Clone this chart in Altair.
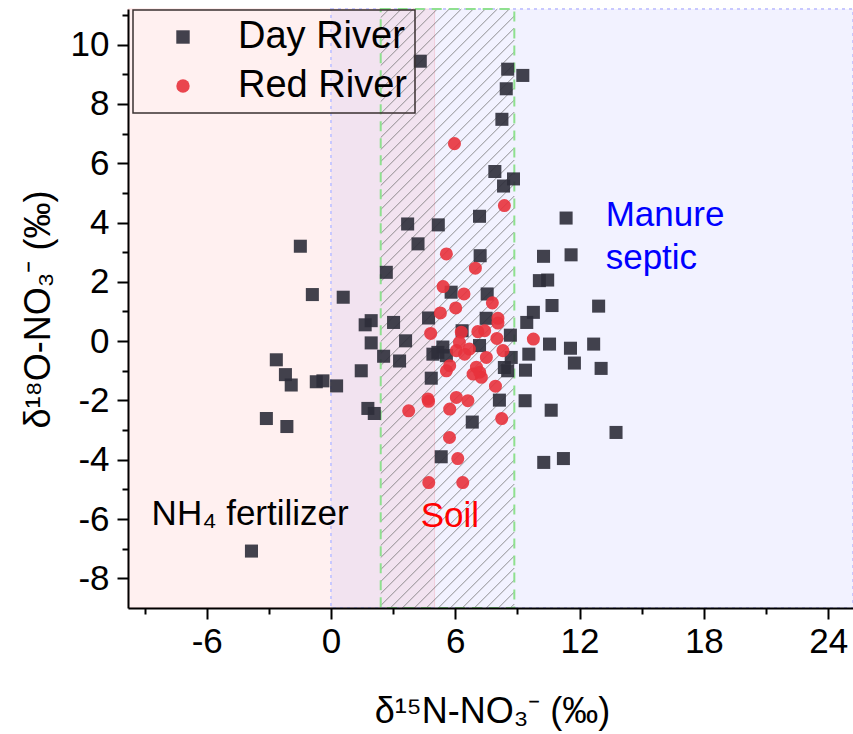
import altair as alt
import numpy as np
import pandas as pd

# ---------------- data ----------------
day_x = [-1.48, -0.9, 0.59, 3.7, 4.2, 2.67, 1.65, 1.94, 3.02, 1.94, 3.6, 2.54, 3.31,
         -2.64, -2.2, -1.92, -0.71, -0.39, 0.27, 1.46, 1.78, 2.09, -3.12, -2.13, -3.84,
         5.32, 6.82, 4.31, 8.53, 9.26, 8.46, 8.25, 7.91, 8.81, 8.33, 7.17, 11.35, 5.18,
         7.2, 10.26, 11.59, 10.06, 10.46, 5.8, 7.54, 10.67, 12.92, 9.77, 9.45, 4.71, 7.49,
         6.33, 8.66, 7.17, 10.55, 11.56, 12.68, 4.92, 5.4, 5.16, 5.57, 9.55, 8.7, 8.37,
         8.53, 11.75, 13.04, 9.39, 4.84, 8.13, 9.37, 10.63, 13.76, 10.27, 11.22]
day_y = [3.2, 1.57, 1.48, 3.95, 3.28, 2.32, 0.55, 0.69, 0.63, -0.06, 0.01, -0.51, -0.67,
         -0.63, -1.13, -1.48, -1.37, -1.34, -1.51, -1.0, -2.27, -2.44, -2.61, -2.88, -7.08,
         -3.9, -2.73, 9.44, 9.17, 8.96, 8.51, 7.48, 5.72, 5.47, 5.23, 4.21, 4.15, 3.92,
         2.88, 2.86, 2.91, 2.04, 2.06, 1.65, 1.59, 1.2, 1.18, 0.97, 0.63, 0.78, 0.77,
         0.35, 0.2, -0.15, -0.1, -0.24, -0.1, -0.44, -0.2, -0.38, -0.49, -0.44, -0.55, -0.89,
         -1.0, -0.74, -0.92, -0.98, -1.25, -1.99, -2.01, -2.33, -3.08, -4.09, -3.96]

red_x = [5.96, 8.37, 9.77, 5.72, 6.12, 4.72, 6.36, 8.24, 5.57, 6.97, 5.41, 6.42, 7.79,
         6.02, 5.28, 8.06, 4.81, 6.29, 7.09, 7.42, 8.06, 8.01, 8.3, 6.2, 6.68, 6.05, 6.45,
         7.5, 5.73, 5.57, 7.02, 7.18, 7.26, 6.86, 7.94, 4.68, 6.05, 6.61, 3.75, 5.73, 4.71]
red_y = [6.66, 4.57, 0.07, -3.25, -3.96, -4.77, -4.77, -2.61, 2.94, 2.46, 1.84, 1.59, 1.29,
         1.12, 0.95, 0.77, 0.26, 0.3, 0.32, 0.35, 0.61, 0.09, -0.32, -0.04, -0.27, -0.32, -0.44,
         -0.55, -0.83, -1.0, -0.88, -1.05, -1.22, -1.11, -1.52, -1.95, -1.9, -2.01, -2.35, -2.29, -2.03]

series_names = ["Day River", "Red River"]
series_colors = ["#2e2e3a", "#e8323c"]
series_shapes = ["square", "circle"]

x_ticks = [-9, -6, -3, 0, 3, 6, 9, 12, 15, 18, 21, 24]
y_ticks = list(range(-8, 12))

X_MIN, X_MAX = -9.8, 25.2
Y_MIN, Y_MAX = -9.0, 11.2

fert_range = [X_MIN, 5.0]      # NH4 fertilizer band
manure_range = [0.0, X_MAX]    # manure / septic band
soil_range = [2.4, 8.85]       # soil band (hatched)

labels_text = ["NH₄ fertilizer", "Soil", "Manure", "septic"]
labels_x = [-8.66, 4.33, 13.26, 13.26]
labels_y = [-6.2, -6.27, 3.89, 2.43]
labels_color = ["#000000", "#ff0000", "#0000ff", "#0000ff"]

# ---------------- layout ----------------
W, H = 725, 599
FONT = "Liberation Sans"

pts = pd.DataFrame({
    "x": day_x + red_x,
    "y": day_y + red_y,
    "series": [series_names[0]] * len(day_x) + [series_names[1]] * len(red_x),
})

xs = alt.Scale(domain=[X_MIN, X_MAX], nice=False, zero=False)
ys = alt.Scale(domain=[Y_MIN, Y_MAX], nice=False, zero=False)

x_axis = alt.Axis(
    values=x_ticks,
    labelExpr="datum.value % 6 == 0 ? '' + datum.value : ''",
    tickSize={"condition": {"test": "datum.value % 6 != 0", "value": 6}, "value": 11},
    title="δ¹⁵N-NO₃⁻ (‰)",
    titleX=364, titleY=114, titleBaseline="alphabetic", titleAlign="center",
    labelPadding=5, grid=False, zindex=2,
)
y_axis = alt.Axis(
    values=y_ticks,
    labelExpr="datum.value % 2 == 0 ? '' + datum.value : ''",
    tickSize={"condition": {"test": "datum.value % 2 != 0", "value": 6}, "value": 11},
    title="δ¹⁸O-NO₃⁻ (‰)",
    titleX=-90, titleY=300, titleAngle=-90, titleBaseline="middle", titleAlign="center",
    labelPadding=8, grid=False, zindex=2,
)

X = lambda f: alt.X(f, type="quantitative", scale=xs, axis=x_axis)
Y = lambda f: alt.Y(f, type="quantitative", scale=ys, axis=y_axis)

bands = pd.DataFrame({
    "x": [fert_range[0], manure_range[0]],
    "x2": [fert_range[1], manure_range[1]],
    "y": [Y_MIN, Y_MIN],
    "y2": [Y_MAX, Y_MAX],
})
pink = alt.Chart(bands.iloc[[0]]).mark_rect(
    fill="#ff0000", fillOpacity=0.06, stroke="#ffb0b0", strokeOpacity=0.4, strokeWidth=1
).encode(x=X("x"), x2="x2", y=Y("y"), y2="y2")
lav = alt.Chart(bands.iloc[[1]]).mark_rect(
    fill="#0000ff", fillOpacity=0.05, stroke="#c8c8ff", strokeWidth=2, strokeDash=[3, 4]
).encode(x=X("x"), x2="x2", y=Y("y"), y2="y2")

# hatch pattern for the soil band, built from the band's bounds
kx = W / (X_MAX - X_MIN)
ky = H / (Y_MAX - Y_MIN)
bw = (soil_range[1] - soil_range[0]) * kx
bh = (Y_MAX - Y_MIN) * ky
rows = []
for c in np.arange(-bw + 4, bh, 12.0):
    u0 = max(0.0, -c)
    u1 = min(bw, bh - c)
    if u1 > u0:
        rows.append({
            "x": soil_range[0] + u0 / kx, "y": Y_MIN + (u0 + c) / ky,
            "x2": soil_range[0] + u1 / kx, "y2": Y_MIN + (u1 + c) / ky,
        })
hatch_df = pd.DataFrame(rows)
hatch = alt.Chart(hatch_df).mark_rule(color="#6e6e6e", strokeWidth=1, opacity=0.75).encode(
    x=X("x"), y=Y("y"), x2="x2", y2="y2"
)

soil_df = pd.DataFrame({"x": [soil_range[0]], "x2": [soil_range[1]], "y": [Y_MIN], "y2": [Y_MAX]})
soil = alt.Chart(soil_df).mark_rect(
    fill="transparent", stroke="#8fe08f", strokeWidth=2, strokeDash=[10, 7]
).encode(x=X("x"), x2="x2", y=Y("y"), y2="y2")

points = alt.Chart(pts).mark_point(filled=True, opacity=0.9, size=170, strokeWidth=0).encode(
    x=X("x"),
    y=Y("y"),
    color=alt.Color("series:N", scale=alt.Scale(domain=series_names, range=series_colors),
                    legend=alt.Legend(title=None)),
    shape=alt.Shape("series:N", scale=alt.Scale(domain=series_names, range=series_shapes),
                    legend=alt.Legend(title=None)),
)

ann = pd.DataFrame({"t": labels_text, "x": labels_x, "y": labels_y, "c": labels_color})
texts = alt.Chart(ann).mark_text(
    align="left", baseline="alphabetic", fontSize=35, font=FONT
).encode(x=X("x"), y=Y("y"), text="t:N", color=alt.Color("c:N", scale=None))

chart = alt.layer(pink, lav, hatch, soil, points, texts).properties(
    width=W, height=H,
    autosize=alt.AutoSizeParams(type="none"),
    padding={"left": 128, "top": 9, "right": 0, "bottom": 126},
).configure_view(stroke=None).configure_axis(
    domainColor="#000000", domainWidth=2, tickColor="#000000", tickWidth=2,
    labelFont=FONT, labelFontSize=35, labelColor="#000000",
    titleFont=FONT, titleFontSize=36, titleColor="#000000", titleFontWeight="normal",
).configure_legend(
    orient="none", legendX=5, legendY=1,
    strokeColor="#3a3030", strokeWidth=1.5, padding=8,
    labelFont=FONT, labelFontSize=38, labelColor="#000000", labelLimit=0,
    symbolSize=180, symbolOffset=23, labelOffset=36, rowPadding=11,
    symbolOpacity=0.9, symbolStrokeWidth=0,
)

chart.save("out.html", embed_options={"renderer": "svg", "actions": False})
